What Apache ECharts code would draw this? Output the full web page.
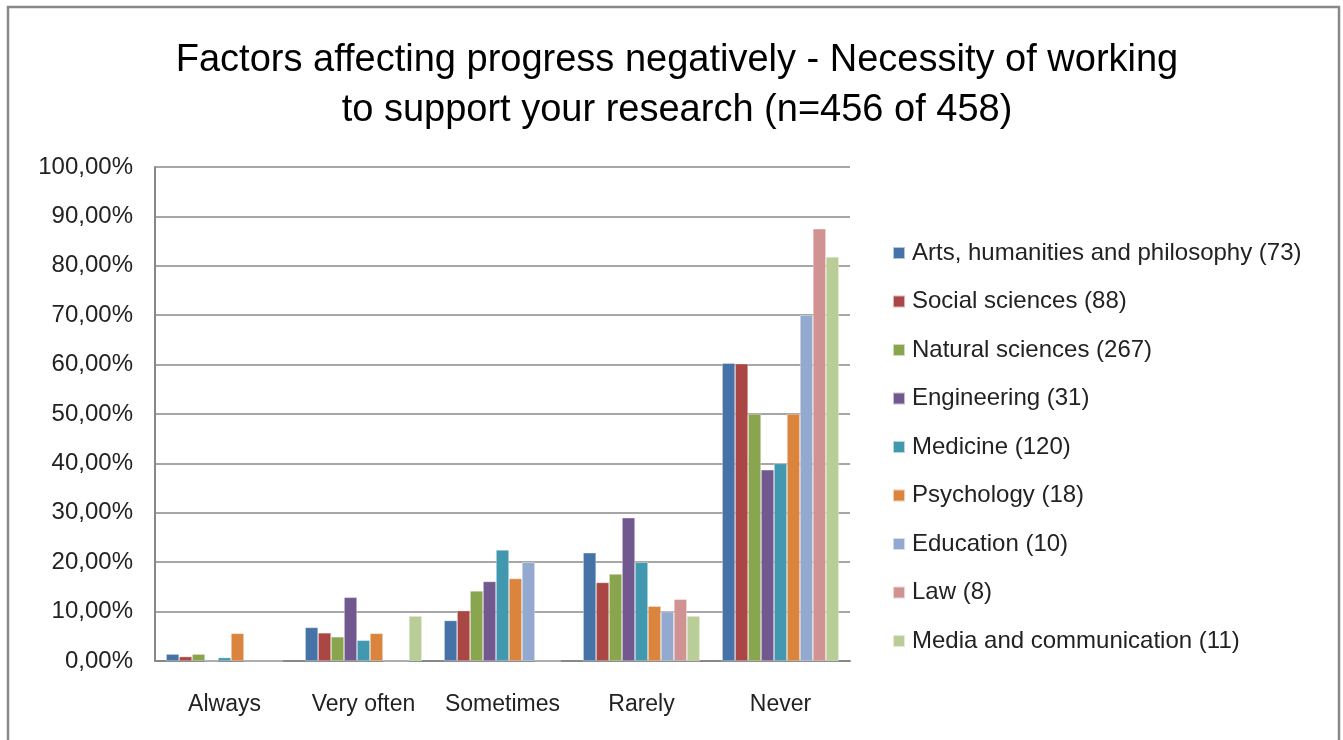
<!DOCTYPE html>
<html>
<head>
<meta charset="utf-8">
<script src="https://cdn.jsdelivr.net/npm/echarts@6/dist/echarts.min.js"></script>
<style>
html,body{margin:0;padding:0;background:#fff;}
#chart{width:1343px;height:740px;}
</style>
</head>
<body>
<div id="chart"></div>
<script>
const categories = ['Always', 'Very often', 'Sometimes', 'Rarely', 'Never'];
const seriesNames = [
  'Arts, humanities and philosophy (73)',
  'Social sciences (88)',
  'Natural sciences (267)',
  'Engineering (31)',
  'Medicine (120)',
  'Psychology (18)',
  'Education (10)',
  'Law (8)',
  'Media and communication (11)'
];
const arts = [1.4, 6.8, 8.2, 21.9, 60.3];
const social = [0.9, 5.7, 10.2, 15.9, 60.2];
const natural = [1.4, 4.9, 14.2, 17.6, 50.0];
const engineering = [0, 12.9, 16.1, 29.0, 38.7];
const medicine = [0.7, 4.2, 22.5, 20.0, 40.0];
const psychology = [5.6, 5.6, 16.7, 11.1, 50.0];
const education = [0, 0, 20.0, 10.0, 70.0];
const law = [0, 0, 0, 12.5, 87.5];
const media = [0, 9.1, 0, 9.1, 81.8];
const yTicks = {min: 0, max: 100, interval: 10};
const colors = ['#4572A7', '#AA4643', '#89A54E', '#71588F', '#4198AF', '#DB843D', '#93A9CF', '#D19392', '#B9CD96'];

const allData = [arts, social, natural, engineering, medicine, psychology, education, law, media];
const font = 'Liberation Sans, Arial, sans-serif';

const chart = echarts.init(document.getElementById('chart'));
chart.setOption({
  animation: false,
  color: colors,
  graphic: [{
    type: 'rect',
    shape: {x: 8, y: 7, width: 1331, height: 760},
    style: {fill: 'none', stroke: '#888888', lineWidth: 2.5},
    silent: true
  }],
  title: {
    text: 'Factors affecting progress negatively - Necessity of working\nto support your research (n=456 of 458)',
    left: 672,
    textAlign: 'center',
    top: 31,
    textStyle: {fontFamily: font, fontSize: 38, fontWeight: 'normal', color: '#000', lineHeight: 50}
  },
  legend: {
    orient: 'vertical',
    left: 887,
    top: 236,
    itemWidth: 12,
    itemHeight: 12,
    itemGap: 24.5,
    icon: 'rect',
    textStyle: {fontFamily: font, fontSize: 24, color: '#222', padding: [0, 0, 0, 2]},
    data: seriesNames
  },
  grid: {left: 155, right: 493, top: 167, bottom: 79, containLabel: false},
  xAxis: {
    type: 'category',
    data: categories,
    axisLine: {lineStyle: {color: '#888888', width: 2}},
    axisTick: {show: false},
    axisLabel: {fontFamily: font, fontSize: 23, color: '#222', margin: 32, interval: 0}
  },
  yAxis: {
    type: 'value',
    min: yTicks.min,
    max: yTicks.max,
    interval: yTicks.interval,
    axisLine: {show: true, lineStyle: {color: '#888888', width: 2}},
    axisTick: {show: false},
    splitLine: {lineStyle: {color: '#888888', width: 1.5}},
    axisLabel: {
      fontFamily: font, fontSize: 24, color: '#222', margin: 22,
      formatter: v => v.toFixed(2).replace('.', ',') + '%'
    }
  },
  series: seriesNames.map((name, i) => ({
    name: name,
    type: 'bar',
    data: allData[i],
    barGap: '0%',
    barCategoryGap: '16%',
    itemStyle: {borderColor: 'rgba(255,255,255,0.6)', borderWidth: 0.6}
  }))
});
</script>
</body>
</html>
